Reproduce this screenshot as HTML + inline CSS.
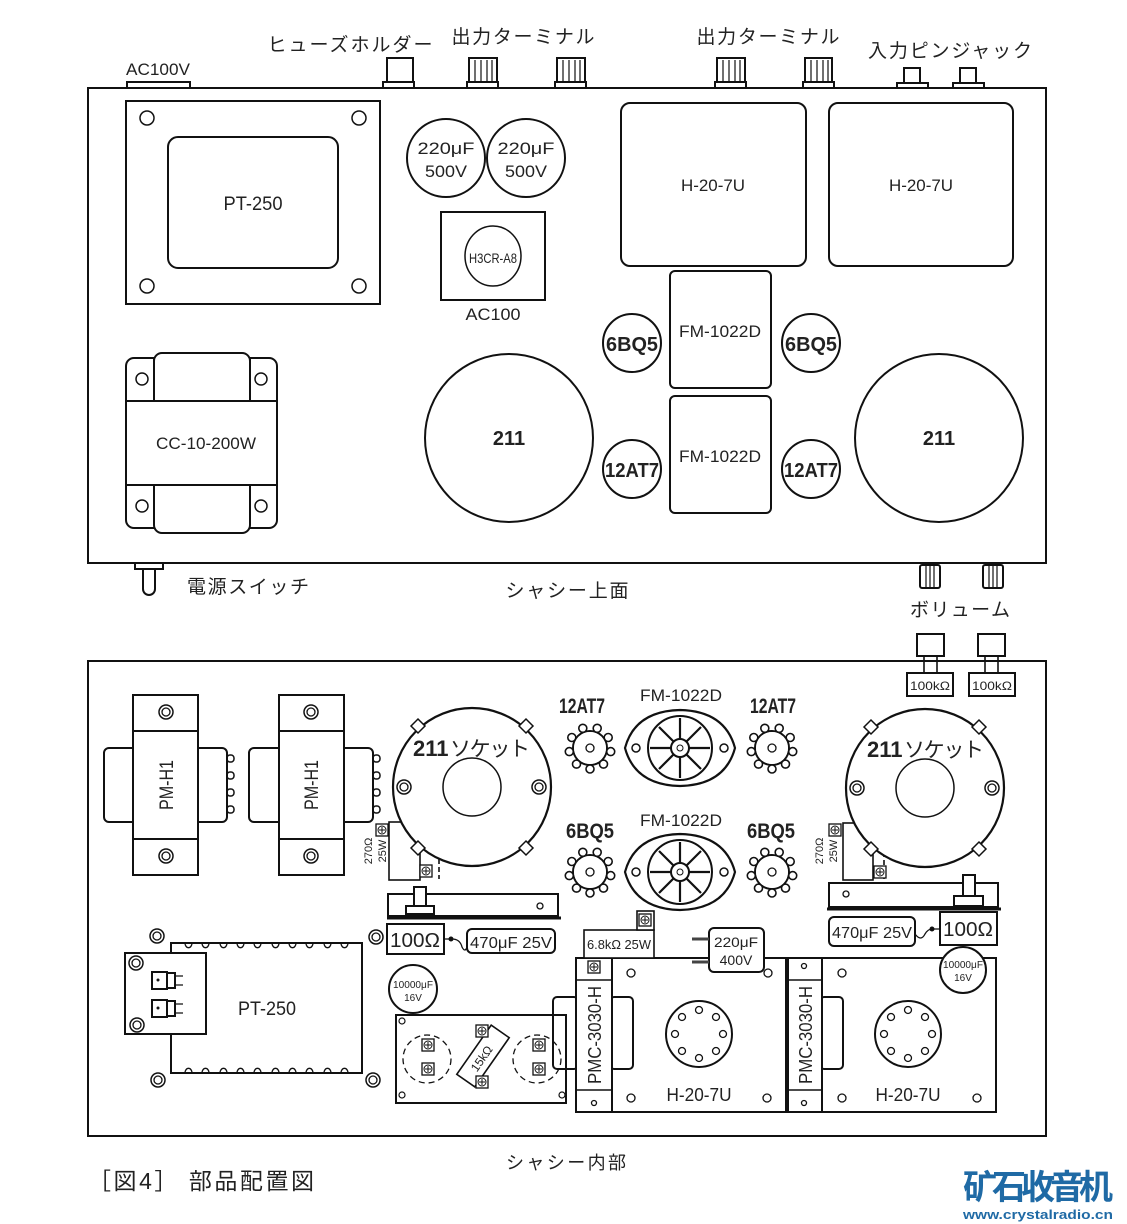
<!DOCTYPE html>
<html><head><meta charset="utf-8"><style>
html,body{margin:0;padding:0;background:#fff}
svg{display:block}
text{font-family:"Liberation Sans","Noto Sans CJK JP",sans-serif;fill:#222}
.b{font-weight:bold}
</style></head><body>
<svg width="1127" height="1224" viewBox="0 0 1127 1224" xmlns="http://www.w3.org/2000/svg">
<defs>
<g id="sock9">
<circle r="17" fill="#fff" stroke="#111" stroke-width="2"/>
<g fill="#fff" stroke="#111" stroke-width="1.6">
<circle cx="20.7" cy="3.6" r="4"/><circle cx="13.5" cy="16.1" r="4"/><circle cx="0" cy="21" r="4"/><circle cx="-13.5" cy="16.1" r="4"/><circle cx="-20.7" cy="3.6" r="4"/><circle cx="-18.2" cy="-10.5" r="4"/><circle cx="-7.2" cy="-19.7" r="4"/><circle cx="7.2" cy="-19.7" r="4"/><circle cx="18.2" cy="-10.5" r="4"/>
</g>
<circle r="16" fill="#fff"/>
<circle r="4" fill="none" stroke="#111" stroke-width="1.3"/>
</g>
<g id="oct">
<path d="M-55,0 Q-45,-37 0,-38 Q45,-37 55,0 Q45,37 0,38 Q-45,37 -55,0 Z" fill="#fff" stroke="#111" stroke-width="2.2"/>
<circle r="32" fill="none" stroke="#111" stroke-width="2"/>
<g stroke="#111" stroke-width="2.2">
<line x1="0" y1="-30" x2="0" y2="30"/><line x1="-30" y1="0" x2="30" y2="0"/><line x1="-21" y1="-21" x2="21" y2="21"/><line x1="-21" y1="21" x2="21" y2="-21"/>
</g>
<circle r="9" fill="#fff" stroke="#111" stroke-width="2"/>
<circle r="3" fill="none" stroke="#111"/>
<circle cx="-44" r="4" fill="none" stroke="#111" stroke-width="1.5"/><circle cx="44" r="4" fill="none" stroke="#111" stroke-width="1.5"/>
</g>
<g id="nut"><circle r="7" fill="#fff" stroke="#111" stroke-width="1.5"/><circle r="4" fill="none" stroke="#111" stroke-width="1.3"/></g>
<g id="scr"><rect x="-6" y="-6" width="12" height="12" fill="#fff" stroke="#111" stroke-width="1.3"/><circle r="4" fill="none" stroke="#111"/><path d="M-3,0h6M0,-3v6" stroke="#111"/></g>
<g id="s211">
<circle r="79" fill="#fff" stroke="#111" stroke-width="2.2"/>
<circle r="29" fill="none" stroke="#111" stroke-width="1.5"/>
<g fill="#fff" stroke="#111" stroke-width="1.5">
<path d="M-61,-61 l7,-7 l7,7 l-7,7z"/><path d="M61,-61 l-7,-7 l-7,7 l7,7z"/><path d="M-61,61 l7,7 l7,-7 l-7,-7z"/><path d="M61,61 l-7,7 l-7,-7 l7,-7z"/>
</g>
<use href="#nut" x="-68"/><use href="#nut" x="67"/>
</g>
<g id="h20" fill="none" stroke="#111" stroke-width="2">
<circle r="33"/>
<g stroke-width="1.3"><circle cx="0" cy="-24" r="3.5"/><circle cx="17" cy="-17" r="3.5"/><circle cx="24" cy="0" r="3.5"/><circle cx="17" cy="17" r="3.5"/><circle cx="0" cy="24" r="3.5"/><circle cx="-17" cy="17" r="3.5"/><circle cx="-24" cy="0" r="3.5"/><circle cx="-17" cy="-17" r="3.5"/></g>
</g>
</defs>

<!-- ===== TOP CHASSIS ===== -->
<g fill="none" stroke="#111" stroke-width="2">
<rect x="88" y="88" width="958" height="475"/>
<rect x="127" y="82" width="63" height="6" fill="#fff"/>
<rect x="387" y="58" width="26" height="24"/><rect x="383" y="82" width="31" height="6"/>
<rect x="469" y="58" width="28" height="24"/><rect x="467" y="82" width="31" height="6"/>
<rect x="557" y="58" width="28" height="24"/><rect x="555" y="82" width="31" height="6"/>
<rect x="717" y="58" width="28" height="24"/><rect x="715" y="82" width="31" height="6"/>
<rect x="805" y="58" width="27" height="24"/><rect x="803" y="82" width="31" height="6"/>
<rect x="904" y="68" width="16" height="15"/><rect x="897" y="83" width="31" height="5"/>
<rect x="960" y="68" width="16" height="15"/><rect x="953" y="83" width="31" height="5"/>
</g>
<g stroke="#111" stroke-width="1.2">
<path d="M475,60v22M481,60v22M487,60v22M492,60v22M563,60v22M569,60v22M575,60v22M580,60v22M723,60v22M729,60v22M735,60v22M740,60v22M811,60v22M817,60v22M823,60v22M828,60v22"/>
</g>
<text x="158" y="75" font-size="17" text-anchor="middle" textLength="64" lengthAdjust="spacingAndGlyphs">AC100V</text>
<text x="350" y="51" font-size="19" text-anchor="middle" textLength="165">ヒューズホルダー</text>
<text x="523" y="43" font-size="19" text-anchor="middle" textLength="143">出力ターミナル</text>
<text x="768" y="43" font-size="19" text-anchor="middle" textLength="143">出力ターミナル</text>
<text x="950" y="57" font-size="19" text-anchor="middle" textLength="164">入力ピンジャック</text>

<g fill="none" stroke="#111" stroke-width="2">
<rect x="126" y="101" width="254" height="203"/>
<rect x="168" y="137" width="170" height="131" rx="10"/>
<g stroke-width="1.5"><circle cx="147" cy="118" r="7"/><circle cx="359" cy="118" r="7"/><circle cx="147" cy="286" r="7"/><circle cx="359" cy="286" r="7"/></g>
<circle cx="446" cy="158" r="39"/><circle cx="526" cy="158" r="39"/>
<rect x="441" y="212" width="104" height="88"/>
<ellipse cx="493" cy="256" rx="28" ry="30" stroke-width="1.5"/>
<rect x="621" y="103" width="185" height="163" rx="9"/>
<rect x="829" y="103" width="184" height="163" rx="9"/>
<rect x="670" y="271" width="101" height="117" rx="5"/>
<rect x="670" y="396" width="101" height="117" rx="5"/>
<circle cx="632" cy="343" r="29"/><circle cx="811" cy="343" r="29"/>
<circle cx="632" cy="469" r="29"/><circle cx="811" cy="469" r="29"/>
<circle cx="509" cy="438" r="84"/><circle cx="939" cy="438" r="84"/>
<rect x="126" y="358" width="151" height="170" rx="8"/>
<rect x="154" y="353" width="96" height="180" rx="8" fill="#fff"/>
<rect x="126" y="401" width="151" height="84" fill="#fff"/>
<line x1="154" y1="358" x2="154" y2="401"/><line x1="250" y1="358" x2="250" y2="401"/>
<g stroke-width="1.5"><circle cx="142" cy="379" r="6"/><circle cx="261" cy="379" r="6"/><circle cx="142" cy="506" r="6"/><circle cx="261" cy="506" r="6"/></g>
<rect x="135" y="563" width="28" height="6"/>
<path d="M143,569 v20 a6,6 0 0 0 12,0 v-20"/>
<rect x="920" y="565" width="20" height="23" rx="2"/><rect x="983" y="565" width="20" height="23" rx="2"/>
</g>
<g stroke="#111" stroke-width="1.2"><path d="M926,566v21M930,566v21M934,566v21M989,566v21M993,566v21M997,566v21"/></g>
<text x="253" y="210" font-size="19" text-anchor="middle" textLength="59" lengthAdjust="spacingAndGlyphs">PT-250</text>
<text x="446" y="154" font-size="17" text-anchor="middle" textLength="57" lengthAdjust="spacingAndGlyphs">220μF</text>
<text x="446" y="177" font-size="17" text-anchor="middle" textLength="42" lengthAdjust="spacingAndGlyphs">500V</text>
<text x="526" y="154" font-size="17" text-anchor="middle" textLength="57" lengthAdjust="spacingAndGlyphs">220μF</text>
<text x="526" y="177" font-size="17" text-anchor="middle" textLength="42" lengthAdjust="spacingAndGlyphs">500V</text>
<text x="493" y="263" font-size="14" text-anchor="middle" textLength="48" lengthAdjust="spacingAndGlyphs">H3CR-A8</text>
<text x="493" y="320" font-size="17" text-anchor="middle" textLength="55" lengthAdjust="spacingAndGlyphs">AC100</text>
<text x="713" y="191" font-size="17" text-anchor="middle" textLength="64" lengthAdjust="spacingAndGlyphs">H-20-7U</text>
<text x="921" y="191" font-size="17" text-anchor="middle" textLength="64" lengthAdjust="spacingAndGlyphs">H-20-7U</text>
<text x="720" y="337" font-size="17" text-anchor="middle" textLength="82" lengthAdjust="spacingAndGlyphs">FM-1022D</text>
<text x="720" y="462" font-size="17" text-anchor="middle" textLength="82" lengthAdjust="spacingAndGlyphs">FM-1022D</text>
<text x="632" y="351" font-size="20" text-anchor="middle" textLength="52" lengthAdjust="spacingAndGlyphs" class="b">6BQ5</text>
<text x="811" y="351" font-size="20" text-anchor="middle" textLength="52" lengthAdjust="spacingAndGlyphs" class="b">6BQ5</text>
<text x="632" y="477" font-size="20" text-anchor="middle" textLength="54" lengthAdjust="spacingAndGlyphs" class="b">12AT7</text>
<text x="811" y="477" font-size="20" text-anchor="middle" textLength="54" lengthAdjust="spacingAndGlyphs" class="b">12AT7</text>
<text x="509" y="445" font-size="20" text-anchor="middle" class="b">211</text>
<text x="939" y="445" font-size="20" text-anchor="middle" class="b">211</text>
<text x="206" y="449" font-size="17" text-anchor="middle" textLength="100" lengthAdjust="spacingAndGlyphs">CC-10-200W</text>
<text x="248" y="593" font-size="19" text-anchor="middle" textLength="122">電源スイッチ</text>
<text x="567" y="597" font-size="19" text-anchor="middle" textLength="123">シャシー上面</text>
<text x="960" y="616" font-size="19" text-anchor="middle" textLength="100">ボリューム</text>

<!-- ===== BOTTOM CHASSIS ===== -->
<g fill="none" stroke="#111" stroke-width="2">
<rect x="88" y="661" width="958" height="475"/>
<rect x="917" y="634" width="27" height="22" fill="#fff"/><rect x="978" y="634" width="27" height="22" fill="#fff"/>
<path d="M924,656v17M937,656v17M985,656v17M998,656v17" stroke-width="1.6"/>
<rect x="907" y="673" width="46" height="23" fill="#fff"/><rect x="969" y="673" width="46" height="23" fill="#fff"/>
<rect x="104" y="748" width="123" height="74" rx="5"/>
<rect x="133" y="695" width="65" height="180" fill="#fff"/>
<line x1="133" y1="731" x2="198" y2="731"/><line x1="133" y1="839" x2="198" y2="839"/>
<rect x="249" y="748" width="124" height="74" rx="5"/>
<rect x="279" y="695" width="65" height="180" fill="#fff"/>
<line x1="279" y1="731" x2="344" y2="731"/><line x1="279" y1="839" x2="344" y2="839"/>
<g stroke-width="1.5">
<rect x="227" y="755" width="7" height="7" rx="3"/><rect x="227" y="772" width="7" height="7" rx="3"/><rect x="227" y="789" width="7" height="7" rx="3"/><rect x="227" y="806" width="7" height="7" rx="3"/>
<rect x="373" y="755" width="7" height="7" rx="3"/><rect x="373" y="772" width="7" height="7" rx="3"/><rect x="373" y="789" width="7" height="7" rx="3"/><rect x="373" y="806" width="7" height="7" rx="3"/>
</g>
</g>
<use href="#nut" x="166" y="712"/><use href="#nut" x="166" y="856"/>
<use href="#nut" x="311" y="712"/><use href="#nut" x="311" y="856"/>
<text transform="translate(173,785) rotate(-90)" font-size="19" text-anchor="middle" textLength="50" lengthAdjust="spacingAndGlyphs">PM-H1</text>
<text transform="translate(318,785) rotate(-90)" font-size="19" text-anchor="middle" textLength="50" lengthAdjust="spacingAndGlyphs">PM-H1</text>

<g fill="none" stroke="#111" stroke-width="1.6">
<rect x="389" y="822" width="31" height="58"/>
<path d="M420,822h19v57" stroke-dasharray="5,3"/>
</g>
<use href="#s211" x="472" y="787"/>
<use href="#scr" x="382" y="830"/><use href="#scr" x="426" y="871"/>
<text transform="translate(372,851) rotate(-90)" font-size="11" text-anchor="middle">270Ω</text>
<text transform="translate(386,851) rotate(-90)" font-size="11" text-anchor="middle">25W</text>
<text x="413" y="756" font-size="22" class="b">211</text><text x="450" y="756" font-size="21" textLength="80">ソケット</text>
<g fill="none" stroke="#111" stroke-width="2">
<rect x="388" y="894" width="170" height="22"/>
<line x1="387" y1="918" x2="561" y2="918" stroke-width="3"/>
<rect x="414" y="887" width="12" height="20" fill="#fff"/>
<rect x="406" y="906" width="28" height="8" fill="#fff"/>
<circle cx="540" cy="906" r="3" stroke-width="1.3"/>
<rect x="387" y="924" width="57" height="30"/>
<rect x="467" y="929" width="88" height="24" rx="5"/>
<path d="M444,939h8 q8,0 10,8 q3,6 5,0" stroke-width="1.3"/>
<circle cx="413" cy="989" r="24"/>
</g>
<circle cx="451" cy="939" r="2.5" fill="#111"/>
<use href="#nut" x="376" y="937"/>
<text x="415" y="947" font-size="20" text-anchor="middle" textLength="50" lengthAdjust="spacingAndGlyphs">100Ω</text>
<text x="511" y="948" font-size="16" text-anchor="middle" textLength="82" lengthAdjust="spacingAndGlyphs">470μF 25V</text>
<text x="413" y="988" font-size="10" text-anchor="middle" textLength="40" lengthAdjust="spacingAndGlyphs">10000μF</text>
<text x="413" y="1001" font-size="10" text-anchor="middle">16V</text>

<g fill="none" stroke="#111" stroke-width="2">
<rect x="171" y="943" width="191" height="130"/>
<rect x="125" y="953" width="81" height="81" fill="#fff"/>
<g stroke-width="1.3">
<path d="M185,943 a3,4 0 0 0 7,0 M202,943 a3,4 0 0 0 7,0 M220,943 a3,4 0 0 0 7,0 M237,943 a3,4 0 0 0 7,0 M254,943 a3,4 0 0 0 7,0 M272,943 a3,4 0 0 0 7,0 M289,943 a3,4 0 0 0 7,0 M306,943 a3,4 0 0 0 7,0 M324,943 a3,4 0 0 0 7,0 M341,943 a3,4 0 0 0 7,0"/>
<path d="M185,1073 a3,4 0 0 1 7,0 M202,1073 a3,4 0 0 1 7,0 M220,1073 a3,4 0 0 1 7,0 M237,1073 a3,4 0 0 1 7,0 M254,1073 a3,4 0 0 1 7,0 M272,1073 a3,4 0 0 1 7,0 M289,1073 a3,4 0 0 1 7,0 M306,1073 a3,4 0 0 1 7,0 M324,1073 a3,4 0 0 1 7,0 M341,1073 a3,4 0 0 1 7,0"/>
</g>
<rect x="152" y="972" width="15" height="17"/><rect x="167" y="973" width="8" height="15"/>
<rect x="152" y="1000" width="15" height="17"/><rect x="167" y="1001" width="8" height="15"/>
<path d="M175,976h8M175,985h8M175,1004h8M175,1013h8" stroke-width="1.3"/>
</g>
<circle cx="158" cy="980" r="1.5" fill="#111"/><circle cx="158" cy="1008" r="1.5" fill="#111"/>
<use href="#nut" x="136" y="963"/><use href="#nut" x="137" y="1025"/>
<use href="#nut" x="157" y="936"/><use href="#nut" x="158" y="1080"/><use href="#nut" x="373" y="1080"/>
<text x="267" y="1015" font-size="19" text-anchor="middle" textLength="58" lengthAdjust="spacingAndGlyphs">PT-250</text>

<g fill="none" stroke="#111" stroke-width="2">
<rect x="396" y="1015" width="170" height="88"/>
<circle cx="427" cy="1059" r="24" stroke-width="1.3" stroke-dasharray="6,4"/>
<circle cx="537" cy="1059" r="24" stroke-width="1.3" stroke-dasharray="6,4"/>
<circle cx="402" cy="1021" r="3" stroke-width="1.2"/><circle cx="402" cy="1095" r="3" stroke-width="1.2"/><circle cx="562" cy="1095" r="3" stroke-width="1.2"/>
<g transform="translate(483,1056) rotate(-55)"><rect x="-30" y="-11" width="60" height="22" fill="#fff" stroke-width="1.6"/></g>
</g>
<use href="#scr" x="428" y="1045"/><use href="#scr" x="428" y="1069"/><use href="#scr" x="539" y="1045"/><use href="#scr" x="539" y="1069"/>
<use href="#scr" x="482" y="1031"/><use href="#scr" x="482" y="1082"/>
<text transform="translate(485,1061) rotate(-55)" font-size="12" text-anchor="middle">15kΩ</text>

<use href="#sock9" x="590" y="748"/><use href="#sock9" x="772" y="748"/>
<use href="#sock9" x="590" y="872"/><use href="#sock9" x="772" y="872"/>
<use href="#oct" x="680" y="748"/><use href="#oct" x="680" y="872"/>
<text x="582" y="713" font-size="21" text-anchor="middle" textLength="46" lengthAdjust="spacingAndGlyphs" class="b">12AT7</text>
<text x="773" y="713" font-size="21" text-anchor="middle" textLength="46" lengthAdjust="spacingAndGlyphs" class="b">12AT7</text>
<text x="590" y="838" font-size="21" text-anchor="middle" textLength="48" lengthAdjust="spacingAndGlyphs" class="b">6BQ5</text>
<text x="771" y="838" font-size="21" text-anchor="middle" textLength="48" lengthAdjust="spacingAndGlyphs" class="b">6BQ5</text>
<text x="681" y="701" font-size="17" text-anchor="middle" textLength="82" lengthAdjust="spacingAndGlyphs">FM-1022D</text>
<text x="681" y="826" font-size="17" text-anchor="middle" textLength="82" lengthAdjust="spacingAndGlyphs">FM-1022D</text>

<g fill="none" stroke="#111" stroke-width="1.6">
<rect x="843" y="823" width="30" height="57"/>
<path d="M873,823h11v56" stroke-dasharray="5,3"/>
</g>
<use href="#s211" x="925" y="788"/>
<use href="#scr" x="835" y="830"/><use href="#scr" x="880" y="872"/>
<text transform="translate(823,851) rotate(-90)" font-size="11" text-anchor="middle">270Ω</text>
<text transform="translate(837,851) rotate(-90)" font-size="11" text-anchor="middle">25W</text>
<text x="867" y="757" font-size="22" class="b">211</text><text x="904" y="757" font-size="21" textLength="80">ソケット</text>
<text x="930" y="690" font-size="12" text-anchor="middle" textLength="40" lengthAdjust="spacingAndGlyphs">100kΩ</text>
<text x="992" y="690" font-size="12" text-anchor="middle" textLength="40" lengthAdjust="spacingAndGlyphs">100kΩ</text>
<g fill="none" stroke="#111" stroke-width="2">
<rect x="829" y="883" width="169" height="24"/>
<line x1="827" y1="909" x2="1001" y2="909" stroke-width="3"/>
<rect x="963" y="875" width="12" height="22" fill="#fff"/>
<rect x="954" y="896" width="29" height="10" fill="#fff"/>
<circle cx="846" cy="894" r="3" stroke-width="1.3"/>
<rect x="829" y="917" width="86" height="29" rx="5"/>
<rect x="940" y="912" width="57" height="33"/>
<path d="M915,934 q6,8 10,0 q3,-5 7,-5 h8" stroke-width="1.3"/>
</g>
<circle cx="932" cy="929" r="2.5" fill="#111"/>
<text x="872" y="938" font-size="16" text-anchor="middle" textLength="80" lengthAdjust="spacingAndGlyphs">470μF 25V</text>
<text x="968" y="936" font-size="20" text-anchor="middle" textLength="50" lengthAdjust="spacingAndGlyphs">100Ω</text>

<g fill="none" stroke="#111" stroke-width="2">
<rect x="553" y="997" width="25" height="72" rx="4"/>
<rect x="765" y="997" width="25" height="72" rx="4"/>
<rect x="612" y="958" width="174" height="154" fill="#fff"/>
<rect x="822" y="958" width="174" height="154" fill="#fff"/>
<rect x="610" y="997" width="23" height="72" rx="4" fill="#fff"/>
<rect x="820" y="997" width="23" height="72" rx="4" fill="#fff"/>
<rect x="576" y="958" width="36" height="154" fill="#fff"/>
<rect x="788" y="958" width="34" height="154" fill="#fff"/>
<path d="M576,980h36M576,1090h36M788,980h34M788,1090h34" stroke-width="1.5"/>
<rect x="584" y="930" width="70" height="28" fill="#fff" stroke-width="1.6"/>
<rect x="637" y="911" width="17" height="19" fill="#fff" stroke-width="1.6"/>
<rect x="709" y="928" width="55" height="44" rx="5" fill="#fff"/>
<path d="M692,939h17M692,962h17" stroke-width="3" stroke="#444"/>
<circle cx="963" cy="970" r="23" fill="#fff"/>
<g stroke-width="1.3">
<circle cx="631" cy="973" r="4"/><circle cx="768" cy="973" r="4"/><circle cx="631" cy="1098" r="4"/><circle cx="767" cy="1098" r="4"/>
<circle cx="842" cy="973" r="4"/><circle cx="842" cy="1098" r="4"/><circle cx="977" cy="1098" r="4"/>
<circle cx="594" cy="1103" r="2.5"/><circle cx="804" cy="1103" r="2.5"/><circle cx="804" cy="966" r="2.5"/>
</g>
</g>
<text x="963" y="968" font-size="10" text-anchor="middle" textLength="40" lengthAdjust="spacingAndGlyphs">10000μF</text>
<text x="963" y="981" font-size="10" text-anchor="middle">16V</text>
<use href="#scr" x="594" y="967"/><use href="#scr" x="645" y="920"/>
<use href="#h20" x="699" y="1034"/><use href="#h20" x="908" y="1034"/>
<text transform="translate(601,1035) rotate(-90)" font-size="18" text-anchor="middle" textLength="98" lengthAdjust="spacingAndGlyphs">PMC-3030-H</text>
<text transform="translate(812,1035) rotate(-90)" font-size="18" text-anchor="middle" textLength="98" lengthAdjust="spacingAndGlyphs">PMC-3030-H</text>
<text x="619" y="949" font-size="13" text-anchor="middle" textLength="64" lengthAdjust="spacingAndGlyphs">6.8kΩ  25W</text>
<text x="736" y="947" font-size="14" text-anchor="middle" textLength="44" lengthAdjust="spacingAndGlyphs">220μF</text>
<text x="736" y="965" font-size="14" text-anchor="middle">400V</text>
<text x="699" y="1101" font-size="18" text-anchor="middle" textLength="65" lengthAdjust="spacingAndGlyphs">H-20-7U</text>
<text x="908" y="1101" font-size="18" text-anchor="middle" textLength="65" lengthAdjust="spacingAndGlyphs">H-20-7U</text>

<text x="566" y="1169" font-size="18" text-anchor="middle" textLength="120">シャシー内部</text>
<text x="88" y="1189" font-size="23" textLength="226">［図4］ 部品配置図</text>
<text x="1038" y="1199" font-size="34" text-anchor="middle" textLength="150" class="b" style="fill:#1f6aa5">矿石收音机</text>
<text x="1038" y="1219" font-size="13" text-anchor="middle" textLength="150" lengthAdjust="spacingAndGlyphs" class="b" style="fill:#1f6aa5">www.crystalradio.cn</text>
</svg>
</body></html>
